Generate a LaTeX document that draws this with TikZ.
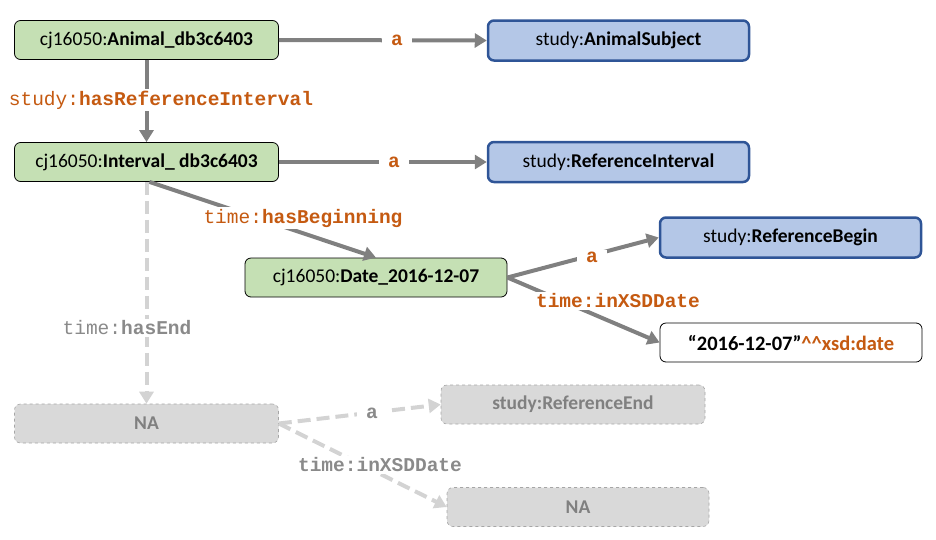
\documentclass[tikz,border=0pt]{standalone}
\usepackage{fontspec}
\setmainfont{Carlito}
\newfontfamily\lblfont{Liberation Mono}
\usetikzlibrary{arrows.meta}
\definecolor{instF}{HTML}{C5E0B4}
\definecolor{clsF}{HTML}{B4C7E7}
\definecolor{clsD}{HTML}{2F5597}
\definecolor{naF}{HTML}{D9D9D9}
\definecolor{naD}{HTML}{A6A6A6}
\definecolor{naT}{HTML}{808080}
\definecolor{relC}{HTML}{808080}
\definecolor{dashC}{HTML}{D3D3D3}
\definecolor{orangeC}{HTML}{C55A11}
\definecolor{grayT}{HTML}{8A8A8A}
\begin{document}
\begin{tikzpicture}[x=1pt,y=-1pt,
  box/.style={rounded corners=6pt, minimum width=264pt, minimum height=39pt, inner sep=0pt, font=\fontsize{19.5}{21}\selectfont},
  inst/.style={box, fill=instF, draw=black, line width=0.8pt},
  cls/.style={box, fill=clsF, draw=clsD, line width=2.5pt, minimum width=261pt, minimum height=40pt},
  lit/.style={box, fill=white, draw=black, line width=0.8pt, minimum width=262pt, font=\fontsize{20.5}{22}\selectfont},
  nabox/.style={box, fill=naF, draw=naD, dashed, line width=0.6pt, text=naT},
  rel/.style={draw=relC, line width=4pt, -{Triangle[length=12pt,width=14pt]}},
  relna/.style={draw=dashC, line width=4pt, dash pattern=on 13pt off 6pt, -{Triangle[length=12pt,width=14pt]}},
  lbl/.style={fill=white, inner sep=2pt, text=orangeC, font=\lblfont\fontsize{19.5}{21}\selectfont},
  lbla/.style={lbl, inner xsep=9pt},
  lblna/.style={lbl, text=grayT}]
\useasboundingbox (0,0) rectangle (936,539);

\node[inst] (animal) at (146.5,40) {cj16050:\textbf{Animal\_db3c6403}};
\node[cls] (asubj) at (618.5,40.5) {study:\textbf{AnimalSubject}};
\node[inst] (interval) at (146.5,162) {cj16050:\textbf{Interval\_ db3c6403}};
\node[cls] (rinterval) at (618.5,162) {study:\textbf{ReferenceInterval}};
\node[inst, minimum width=262pt] (date) at (376,277.5) {cj16050:\textbf{Date\_2016-12-07}};
\node[cls] (rbegin) at (790.5,237.5) {study:\textbf{ReferenceBegin}};
\node[lit] (literal) at (791,342.5) {\textbf{“2016-12-07”\textcolor{orangeC}{\^{}\^{}xsd:date}}};
\node[nabox] (na1) at (146.5,423.5) {\textbf{NA}};
\node[nabox] (rend) at (573,404.5) {\textbf{study:ReferenceEnd}};
\node[nabox, minimum width=262pt] (na2) at (578,507) {\textbf{NA}};

% dashed (missing) relations
\draw[relna] (interval.south) -- (na1.north);
\draw[relna] (na1.east) -- (rend.west);
\draw[relna] (na1.east) -- (na2.west);

% solid relations
\draw[rel] (animal.east) -- (asubj.west);
\draw[rel] (animal.south) -- (interval.north);
\draw[rel] (interval.east) -- (rinterval.west);
\draw[rel] ([xshift=3pt]interval.south) -- (date.north);
\draw[rel] (date.east) -- (rbegin.west);
\draw[rel] (date.east) -- (literal.west);

% labels
\node[lbla] (l1) at (397,40) {\textbf{a}};
\node[lbl] (l2) at (161,100) {study:\textbf{hasReferenceInterval}};
\node[lbla] (l3) at (394,162) {\textbf{a}};
\node[lbl] (l4) at (303,218) {time:\textbf{hasBeginning}};
\node[lbla] (l5) at (592,257) {\textbf{a}};
\node[lbl] (l6) at (618,301) {\textbf{time:inXSDDate}};
\node[lblna] (l7) at (127,328) {time:\textbf{hasEnd}};
\node[lblna, inner xsep=9pt] (l8) at (372,413) {\textbf{a}};
\node[lblna] (l9) at (380,465) {\textbf{time:inXSDDate}};
\end{tikzpicture}
\end{document}
